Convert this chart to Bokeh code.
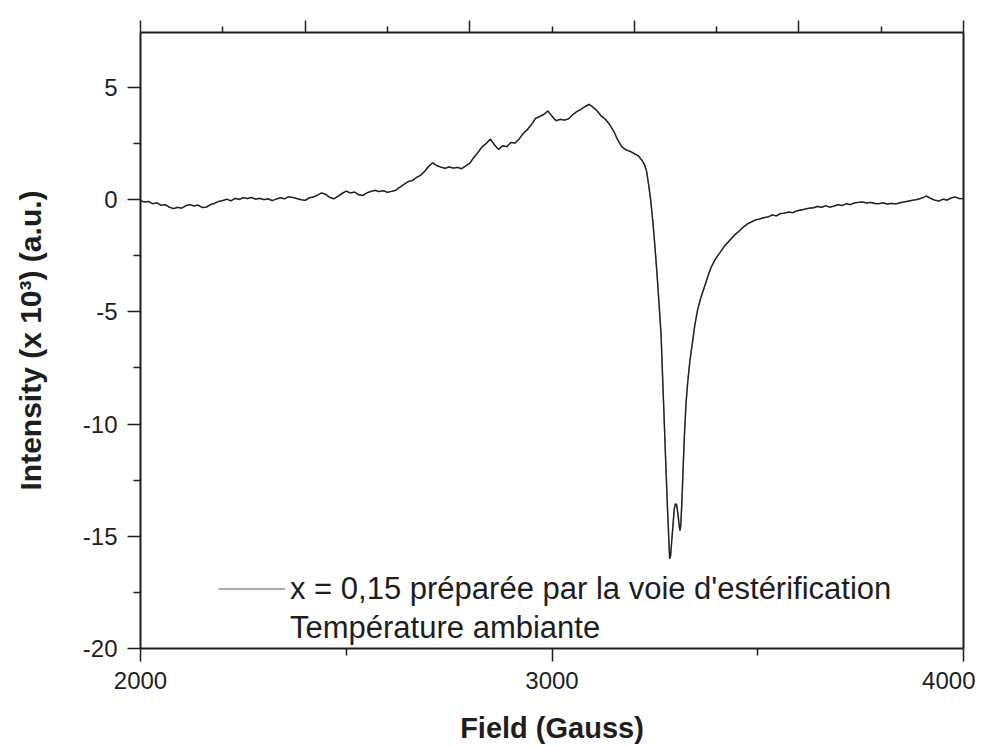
from bokeh.plotting import figure
from bokeh.models import (LinearAxis, FixedTicker, Legend, LegendItem, Range1d,
                          CustomLabelingPolicy)
from bokeh.embed import file_html
from bokeh.resources import INLINE

# ---- data (Field in Gauss, Intensity x 10^3 a.u.) ----
field = [
    2000, 2010, 2020, 2030, 2040, 2050, 2060, 2070, 2080, 2090,
    2100, 2110, 2120, 2130, 2140, 2150, 2160, 2170, 2180, 2190,
    2200, 2210, 2220, 2230, 2240, 2250, 2260, 2270, 2280, 2290,
    2300, 2310, 2320, 2330, 2340, 2350, 2360, 2370, 2380, 2390,
    2400, 2410, 2420, 2430, 2440, 2450, 2460, 2470, 2480, 2490,
    2500, 2510, 2520, 2530, 2540, 2550, 2560, 2570, 2580, 2590,
    2600, 2610, 2620, 2630, 2640, 2650, 2660, 2670, 2680, 2690,
    2700, 2710, 2720, 2730, 2740, 2750, 2760, 2770, 2780, 2790,
    2800, 2810, 2820, 2830, 2840, 2850, 2860, 2870, 2880, 2890,
    2900, 2910, 2920, 2930, 2940, 2950, 2960, 2970, 2980, 2990,
    3000, 3010, 3020, 3030, 3040, 3050, 3060, 3070, 3080, 3090,
    3100, 3110, 3120, 3130, 3140, 3150, 3160, 3170, 3180, 3190,
    3200, 3210, 3220, 3225, 3230, 3235, 3240, 3245, 3250, 3255,
    3260, 3265, 3269, 3273, 3277, 3281, 3284, 3286, 3288, 3291,
    3294, 3297, 3300, 3303, 3306, 3309, 3311, 3313, 3316, 3319,
    3322, 3326, 3330, 3335, 3341, 3347, 3354, 3362, 3371, 3379,
    3387, 3397, 3407, 3420, 3436, 3445, 3455, 3465, 3475, 3485,
    3495, 3505, 3515, 3525, 3535, 3545, 3555, 3565, 3575, 3585,
    3595, 3605, 3615, 3625, 3635, 3645, 3655, 3665, 3675, 3685,
    3695, 3705, 3715, 3725, 3735, 3745, 3755, 3765, 3775, 3785,
    3795, 3805, 3815, 3825, 3835, 3845, 3855, 3865, 3875, 3885,
    3895, 3905, 3910, 3920, 3930, 3940, 3950, 3960, 3970, 3980,
    3990, 4000,
]
intensity = [
    -0.05, -0.10, -0.08, -0.18, -0.14, -0.25, -0.22, -0.33, -0.40, -0.34,
    -0.38, -0.27, -0.22, -0.28, -0.24, -0.35, -0.33, -0.22, -0.16, -0.08,
    -0.04, 0.02, -0.05, 0.06, 0.01, 0.09, 0.05, 0.10, 0.02, 0.06,
    0.00, 0.04, -0.04, 0.03, 0.09, 0.04, 0.13, 0.10, 0.05, 0.00,
    -0.03, 0.08, 0.12, 0.20, 0.30, 0.24, 0.10, 0.04, 0.15, 0.28,
    0.38, 0.30, 0.34, 0.22, 0.19, 0.30, 0.37, 0.42, 0.36, 0.40,
    0.33, 0.37, 0.42, 0.55, 0.68, 0.80, 0.85, 0.98, 1.08, 1.25,
    1.48, 1.64, 1.52, 1.45, 1.40, 1.46, 1.41, 1.44, 1.38, 1.50,
    1.62, 1.88, 2.10, 2.35, 2.50, 2.70, 2.45, 2.24, 2.40, 2.36,
    2.55, 2.52, 2.70, 2.95, 3.12, 3.35, 3.62, 3.70, 3.80, 3.95,
    3.72, 3.52, 3.58, 3.55, 3.60, 3.78, 3.92, 4.02, 4.15, 4.25,
    4.12, 3.95, 3.72, 3.58, 3.35, 3.05, 2.65, 2.35, 2.22, 2.15,
    2.05, 1.95, 1.72, 1.55, 1.25, 0.65, -0.05, -0.95, -2.05, -3.25,
    -4.60, -6.00, -8.00, -10.00, -12.00, -13.90, -15.20, -16.00, -15.90, -15.20,
    -14.50, -13.80, -13.55, -13.60, -14.00, -14.50, -14.75, -14.50, -13.30, -11.80,
    -10.40, -9.00, -8.10, -7.20, -6.40, -5.60, -4.90, -4.35, -3.86, -3.40,
    -3.00, -2.65, -2.39, -2.05, -1.73, -1.55, -1.40, -1.22, -1.08, -0.99,
    -0.90, -0.86, -0.80, -0.77, -0.68, -0.72, -0.62, -0.60, -0.55, -0.58,
    -0.50, -0.46, -0.42, -0.38, -0.36, -0.30, -0.34, -0.27, -0.33, -0.29,
    -0.22, -0.26, -0.18, -0.22, -0.14, -0.12, -0.10, -0.15, -0.12, -0.17,
    -0.18, -0.14, -0.20, -0.16, -0.19, -0.14, -0.10, -0.07, -0.03, 0.00,
    0.05, 0.12, 0.16, 0.06, -0.02, -0.06, 0.02, -0.02, 0.08, 0.12,
    0.05, 0.05,
]

x_major = [2000, 3000, 4000]
x_minor = [2500, 3500]
x_labels = ["2000", "3000", "4000"]
top_major = [2000, 2400, 2800, 3200, 3600, 4000]
top_minor = [2200, 2600, 3000, 3400, 3800]
y_major = [-20, -15, -10, -5, 0, 5]
y_minor = [-17.5, -12.5, -7.5, -2.5, 2.5]
y_labels = ["-20", "-15", "-10", "-5", "0", "5"]

legend_line1 = "x = 0,15 préparée par la voie d'estérification"
legend_line2 = "Température ambiante"
x_title = "Field (Gauss)"
y_title = "Intensity (x 10³) (a.u.)"

FONT = "Liberation Sans"
INK = "#1e1e1e"

p = figure(width=975, height=746,
           x_range=Range1d(2000, 4000), y_range=Range1d(-20, 7.45),
           output_backend="svg", toolbar_location=None,
           min_border_left=140, min_border_right=12,
           min_border_top=27, min_border_bottom=96)
p.xgrid.visible = False
p.ygrid.visible = False
p.outline_line_color = None
p.background_fill_color = "white"
p.border_fill_color = "white"

# grey copy underneath (used only as the legend's sample), black trace on top
r_legend = p.line(field, intensity, line_color="#8c8c8c", line_width=1.5)
p.line(field, intensity, line_color=INK, line_width=1.3)


def style_axis(ax, major_len=13, minor_len=7):
    ax.axis_line_color = INK
    ax.axis_line_width = 2
    ax.major_tick_line_color = INK
    ax.minor_tick_line_color = INK
    ax.major_tick_line_width = 1.5
    ax.minor_tick_line_width = 1.5
    ax.major_tick_in = 0
    ax.major_tick_out = major_len
    ax.minor_tick_in = 0
    ax.minor_tick_out = minor_len
    ax.major_label_text_font = FONT
    ax.major_label_text_font_size = "24px"
    ax.major_label_text_color = INK
    ax.axis_label_text_font = FONT
    ax.axis_label_text_font_style = "bold"
    ax.axis_label_text_font_size = "29px"
    ax.axis_label_text_color = INK


xa = p.xaxis[0]
style_axis(xa)
xa.ticker = FixedTicker(ticks=x_major, minor_ticks=x_minor)
xa.major_label_overrides = {t: s for t, s in zip(x_major, x_labels)}
xa.major_label_standoff = 10
xa.axis_label = x_title
xa.axis_label_standoff = 20

ya = p.yaxis[0]
style_axis(ya)
ya.ticker = FixedTicker(ticks=y_major, minor_ticks=y_minor)
ya.major_label_overrides = {t: s for t, s in zip(y_major, y_labels)}
ya.major_label_standoff = 10
ya.axis_label = y_title
ya.axis_label_text_font_size = "30px"
ya.axis_label_standoff = 33

no_labels = CustomLabelingPolicy(code="for (const i of indices) indices.unset(i)")

top = LinearAxis(ticker=FixedTicker(ticks=top_major, minor_ticks=top_minor))
style_axis(top, 12, 6)
top.major_label_policy = no_labels
top.major_label_standoff = 0
p.add_layout(top, "above")

right = LinearAxis(ticker=FixedTicker(ticks=[], minor_ticks=[]))
style_axis(right)
right.major_label_policy = no_labels
right.major_label_standoff = 0
p.add_layout(right, "right")

r_blank = p.line(x=[], y=[], line_alpha=0)
legend = Legend(items=[LegendItem(label=legend_line1, renderers=[r_legend]),
                       LegendItem(label=legend_line2, renderers=[r_blank])],
                location=(78, 1), glyph_width=67, glyph_height=39,
                label_height=39, spacing=0, padding=0, margin=0,
                label_standoff=5, label_text_font=FONT,
                label_text_font_size="31px", label_text_color=INK,
                border_line_alpha=0, background_fill_alpha=0)
p.add_layout(legend)

open("out.html", "w").write(file_html(p, INLINE))
